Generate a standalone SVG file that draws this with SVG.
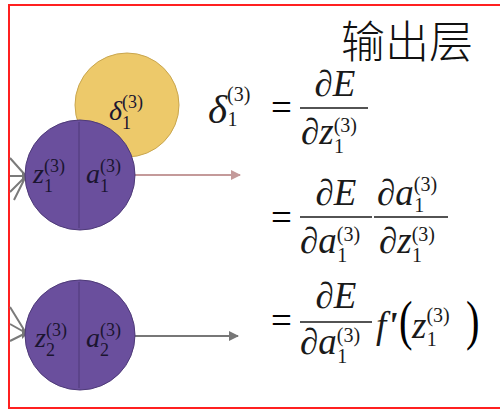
<svg xmlns="http://www.w3.org/2000/svg" width="500" height="410" viewBox="0 0 500 410">
<style>
.m{font-family:"Liberation Serif","DejaVu Serif",serif;font-style:italic;fill:#1a1a1a}
.u{font-family:"Liberation Serif","DejaVu Serif",serif;font-style:normal}
.big{font-size:37px}
.sm{font-size:20px}
.nt{font-size:28px;fill:#1b1530}
.ns{font-size:18px}
.fl{stroke:#1a1a1a;stroke-width:1.6}
.in{stroke:#7a7a7a;stroke-width:2;fill:none}
</style>
<defs>
<marker id="ap" markerWidth="10" markerHeight="10" refX="9" refY="5" orient="auto" markerUnits="userSpaceOnUse"><path d="M0,0 L10,5 L0,10 Z" fill="#c49a9a"/></marker>
<marker id="ag" markerWidth="10" markerHeight="10" refX="9" refY="5" orient="auto" markerUnits="userSpaceOnUse"><path d="M0,0 L10,5 L0,10 Z" fill="#777"/></marker>
</defs>
<rect x="0" y="0" width="500" height="410" fill="#fff"/>
<rect x="9" y="5" width="500" height="403" fill="none" stroke="#ff2020" stroke-width="2"/>
<text x="341" y="58" font-family="'Noto Sans CJK SC',sans-serif" font-size="44" font-weight="300" fill="#111">输出层</text>
<g id="connectors">
<path class="in" d="M10,158 L26,176 M10,176 L26,176 M10,192 L26,176 M14,200 L26,176"/>
<path class="in" d="M10,307 L26,333 M10,324 L26,333 M10,341 L26,333"/>
<path d="M22,171 L28,176 L22,182 Z M22,328 L28,333 L22,339 Z" fill="#777"/>
<line x1="135" y1="175" x2="240" y2="175" stroke="#c49a9a" stroke-width="2" marker-end="url(#ap)"/>
<line x1="135" y1="336" x2="238" y2="336" stroke="#777" stroke-width="2" marker-end="url(#ag)"/>
</g>
<g id="delta">
<circle cx="127" cy="105" r="52" fill="#edc96a" stroke="#c9a64e" stroke-width="1"/>
<text class="m nt" x="109" y="120">δ<tspan class="u ns" dy="-12">(3)</tspan><tspan class="u ns" dx="-21" dy="21">1</tspan></text>
</g>
<g id="n1">
<circle cx="80" cy="175" r="55" fill="#6a4f9d" stroke="#4e3a78" stroke-width="1"/>
<line x1="79" y1="122" x2="79" y2="228" stroke="#4e3a78" stroke-width="1"/>
<text class="m nt" x="33" y="183">z<tspan class="u ns" dy="-11">(3)</tspan><tspan class="u ns" dx="-21" dy="20">1</tspan></text>
<text class="m nt" x="86" y="183">a<tspan class="u ns" dy="-11">(3)</tspan><tspan class="u ns" dx="-21" dy="20">1</tspan></text>
</g>
<g id="n2">
<circle cx="80" cy="335" r="55" fill="#6a4f9d" stroke="#4e3a78" stroke-width="1"/>
<line x1="79" y1="282" x2="79" y2="388" stroke="#4e3a78" stroke-width="1"/>
<text class="m nt" x="35" y="347">z<tspan class="u ns" dy="-11">(3)</tspan><tspan class="u ns" dx="-21" dy="20">2</tspan></text>
<text class="m nt" x="86" y="347">a<tspan class="u ns" dy="-11">(3)</tspan><tspan class="u ns" dx="-21" dy="20">2</tspan></text>
</g>
<g id="eq1">
<text class="m" font-size="41" x="208" y="123">δ<tspan class="u sm" dy="-22">(3)</tspan><tspan class="u sm" dx="-23" dy="25">1</tspan></text>
<text class="u big" x="271" y="120">=</text>
<line class="fl" x1="300" y1="108" x2="368" y2="108"/>
<text class="m big" x="335" y="96" text-anchor="middle">∂E</text>
<text class="m big" x="301" y="144">∂z<tspan class="u sm" dy="-12">(3)</tspan><tspan class="u sm" dx="-23" dy="21">1</tspan></text>
</g>
<g id="eq2">
<text class="u big" x="271" y="230">=</text>
<line class="fl" x1="300" y1="217" x2="372" y2="217"/>
<text class="m big" x="336" y="205" text-anchor="middle">∂E</text>
<text class="m big" x="300" y="253">∂a<tspan class="u sm" dy="-12">(3)</tspan><tspan class="u sm" dx="-23" dy="21">1</tspan></text>
<line class="fl" x1="374" y1="217" x2="448" y2="217"/>
<text class="m big" x="377" y="205">∂a<tspan class="u sm" dy="-14">(3)</tspan><tspan class="u sm" dx="-23" dy="21">1</tspan></text>
<text class="m big" x="379" y="253">∂z<tspan class="u sm" dy="-12">(3)</tspan><tspan class="u sm" dx="-23" dy="21">1</tspan></text>
</g>
<g id="eq3">
<text class="u big" x="271" y="333">=</text>
<line class="fl" x1="300" y1="322" x2="372" y2="322"/>
<text class="m big" x="336" y="308" text-anchor="middle">∂E</text>
<text class="m big" x="300" y="354">∂a<tspan class="u sm" dy="-12">(3)</tspan><tspan class="u sm" dx="-23" dy="21">1</tspan></text>
<text class="m big" x="376" y="338">f<tspan font-weight="bold" dx="1">'</tspan></text>
<text class="u" font-size="54" x="399" y="339" transform="translate(399,339) scale(0.75,1) translate(-399,-339)">(</text>
<text class="m big" x="412" y="338">z<tspan class="u sm" dy="-16">(3)</tspan><tspan class="u sm" dx="-23" dy="24">1</tspan></text>
<text class="u" font-size="54" x="466" y="339" transform="translate(466,339) scale(0.75,1) translate(-466,-339)">)</text>
</g>
</svg>
